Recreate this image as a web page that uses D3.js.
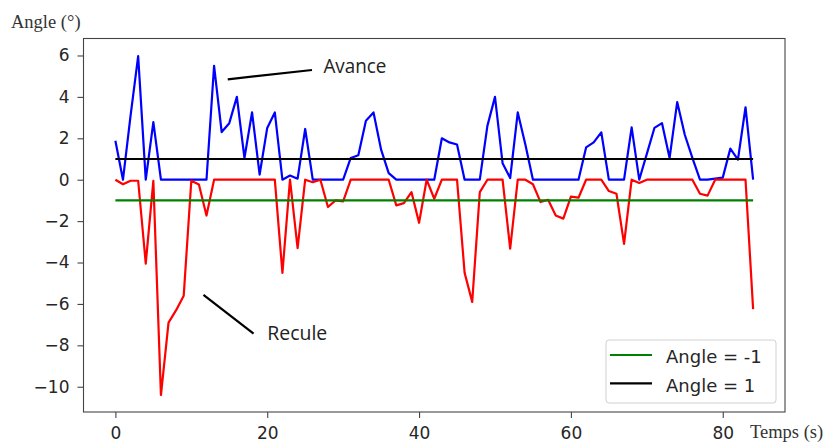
<!DOCTYPE html>
<html><head><meta charset="utf-8">
<script src="https://cdn.jsdelivr.net/npm/d3@7"></script>
<style>body{margin:0;background:#fff}svg{display:block}</style>
</head><body><svg id="c" width="829" height="443"></svg>
<script>
const time = [0,1,2,3,4,5,6,7,8,9,10,11,12,13,14,15,16,17,18,19,20,21,22,23,24,25,26,27,28,29,30,31,32,33,34,35,36,37,38,39,40,41,42,43,44,45,46,47,48,49,50,51,52,53,54,55,56,57,58,59,60,61,62,63,64,65,66,67,68,69,70,71,72,73,74,75,76,77,78,79,80,81,82,83,84];
const avance = [1.88,0,3.1,5.97,0,2.78,0,0,0,0,0,0,0,5.5,2.3,2.73,4.0,1.05,3.25,0.25,2.5,3.25,0,0.2,0.05,2.45,0,0,0,0,0,1.05,1.18,2.85,3.25,1.45,0.32,0,0,0,0,0,0,2.0,1.8,1.7,0,0,0,2.6,4.0,0.8,0.08,3.25,1.7,0,0,0,0,0,0,0,1.56,1.8,2.29,0,0,0,2.53,0,1.25,2.5,2.73,1.05,3.75,2.17,1.05,0,0,0.05,0.1,1.5,0.97,3.5,0];
const recule = [0,-0.22,-0.05,-0.05,-4.05,-0.05,-10.4,-6.9,-6.3,-5.6,-0.05,-0.23,-1.73,0,0,0,0,0,0,0,0,0,-4.5,0,-3.3,0,-0.12,0,-1.32,-1.0,-1.05,0,0,0,0,0,0,-1.24,-1.13,-0.6,-2.08,0,-0.92,0,0,0,-4.5,-5.9,-0.6,0,0,0,-3.33,0,0,-0.22,-1.08,-0.97,-1.73,-1.88,-0.82,-0.87,0,0,0,-0.55,-0.68,-3.1,0,-0.16,0,0,0,0,0,0,0,-0.68,-0.77,0,0,0,0,0,-6.25];
const refValues = [-1, 1];
const refLabels = ["Angle = -1", "Angle = 1"];
const xTicks = [0,20,40,60,80];
const yTicks = [-10,-8,-6,-4,-2,0,2,4,6];
const xLabel = "Temps (s)";
const yLabel = "Angle (°)";
const annotations = ["Avance", "Recule"];

const svg = d3.select("#c");
svg.append("rect").attr("width",829).attr("height",443).attr("fill","#fff");
const L = 83.5, R = 785, T = 38.5, B = 412;
const x = d3.scaleLinear().domain([-4.2, 88.2]).range([L, R]);
const y = d3.scaleLinear().domain([-11.22, 6.82]).range([B, T]);

const fmt = d3.format("");
const gx = svg.append("g").attr("transform", `translate(0,${B})`)
  .call(d3.axisBottom(x).tickValues(xTicks).tickSize(6).tickPadding(9).tickFormat(fmt));
const gy = svg.append("g").attr("transform", `translate(${L},0)`)
  .call(d3.axisLeft(y).tickValues(yTicks).tickSize(6).tickPadding(8).tickFormat(fmt));
[gx, gy].forEach(g => {
  g.select(".domain").remove();
  g.selectAll("line").attr("stroke","#444").attr("stroke-width",1.1);
  g.selectAll("text").attr("fill","#262626").style("font-family","DejaVu Sans").style("font-size","17px");
});

const line = d3.line().x((d,i)=>x(time[i])).y(d=>y(d));
svg.append("path").datum(avance).attr("d", line).attr("fill","none").attr("stroke","#0000ff").attr("stroke-width",2.2).attr("stroke-linejoin","round");
svg.append("path").datum(recule).attr("d", line).attr("fill","none").attr("stroke","#ff0000").attr("stroke-width",2.2).attr("stroke-linejoin","round");
const refColors = ["#008000", "#000000"];
refValues.forEach((v,i) => {
  svg.append("line").attr("x1", x(time[0])).attr("x2", x(time[time.length-1]))
    .attr("y1", y(v)).attr("y2", y(v)).attr("stroke", refColors[i]).attr("stroke-width",2.2);
});

svg.append("rect").attr("x",L).attr("y",T).attr("width",R-L).attr("height",B-T)
  .attr("fill","none").attr("stroke","#444").attr("stroke-width",1.1);

// annotations
svg.append("line").attr("x1",x(14.8)).attr("y1",y(4.85)).attr("x2",x(25.9)).attr("y2",y(5.3))
  .attr("stroke","#000").attr("stroke-width",2.2);
svg.append("text").attr("x",x(27.4)).attr("y",y(5.15)).text(annotations[0])
  .style("font-family","Open Sans").style("font-size","20px").attr("fill","#222")
  .attr("textLength",63).attr("lengthAdjust","spacingAndGlyphs");
svg.append("line").attr("x1",x(11.6)).attr("y1",y(-5.56)).attr("x2",x(18.2)).attr("y2",y(-7.44))
  .attr("stroke","#000").attr("stroke-width",2.2);
svg.append("text").attr("x",x(20.0)).attr("y",y(-7.76)).text(annotations[1])
  .style("font-family","Open Sans").style("font-size","20px").attr("fill","#222")
  .attr("textLength",60).attr("lengthAdjust","spacingAndGlyphs");

// axis labels
svg.append("text").attr("x",11).attr("y",28).text(yLabel)
  .style("font-family","Liberation Serif").style("font-size","18.5px").attr("fill","#333");
svg.append("text").attr("x",750).attr("y",438).text(xLabel)
  .style("font-family","Liberation Serif").style("font-size","18.5px").attr("fill","#333");

// legend
const lg = svg.append("g");
lg.append("rect").attr("x",606).attr("y",340).attr("width",170).attr("height",63).attr("rx",3)
  .attr("fill","#fff").attr("fill-opacity",0.8).attr("stroke","#d0d0d0").attr("stroke-width",1);
refLabels.forEach((t,i) => {
  const yy = 355 + i*28.3;
  lg.append("line").attr("x1",610).attr("x2",652).attr("y1",yy).attr("y2",yy)
    .attr("stroke",refColors[i]).attr("stroke-width",2.2);
  lg.append("text").attr("x",666).attr("y",yy+8.3).text(t)
    .style("font-family","DejaVu Sans").style("font-size","18px").attr("fill","#262626");
});
</script></body></html>
